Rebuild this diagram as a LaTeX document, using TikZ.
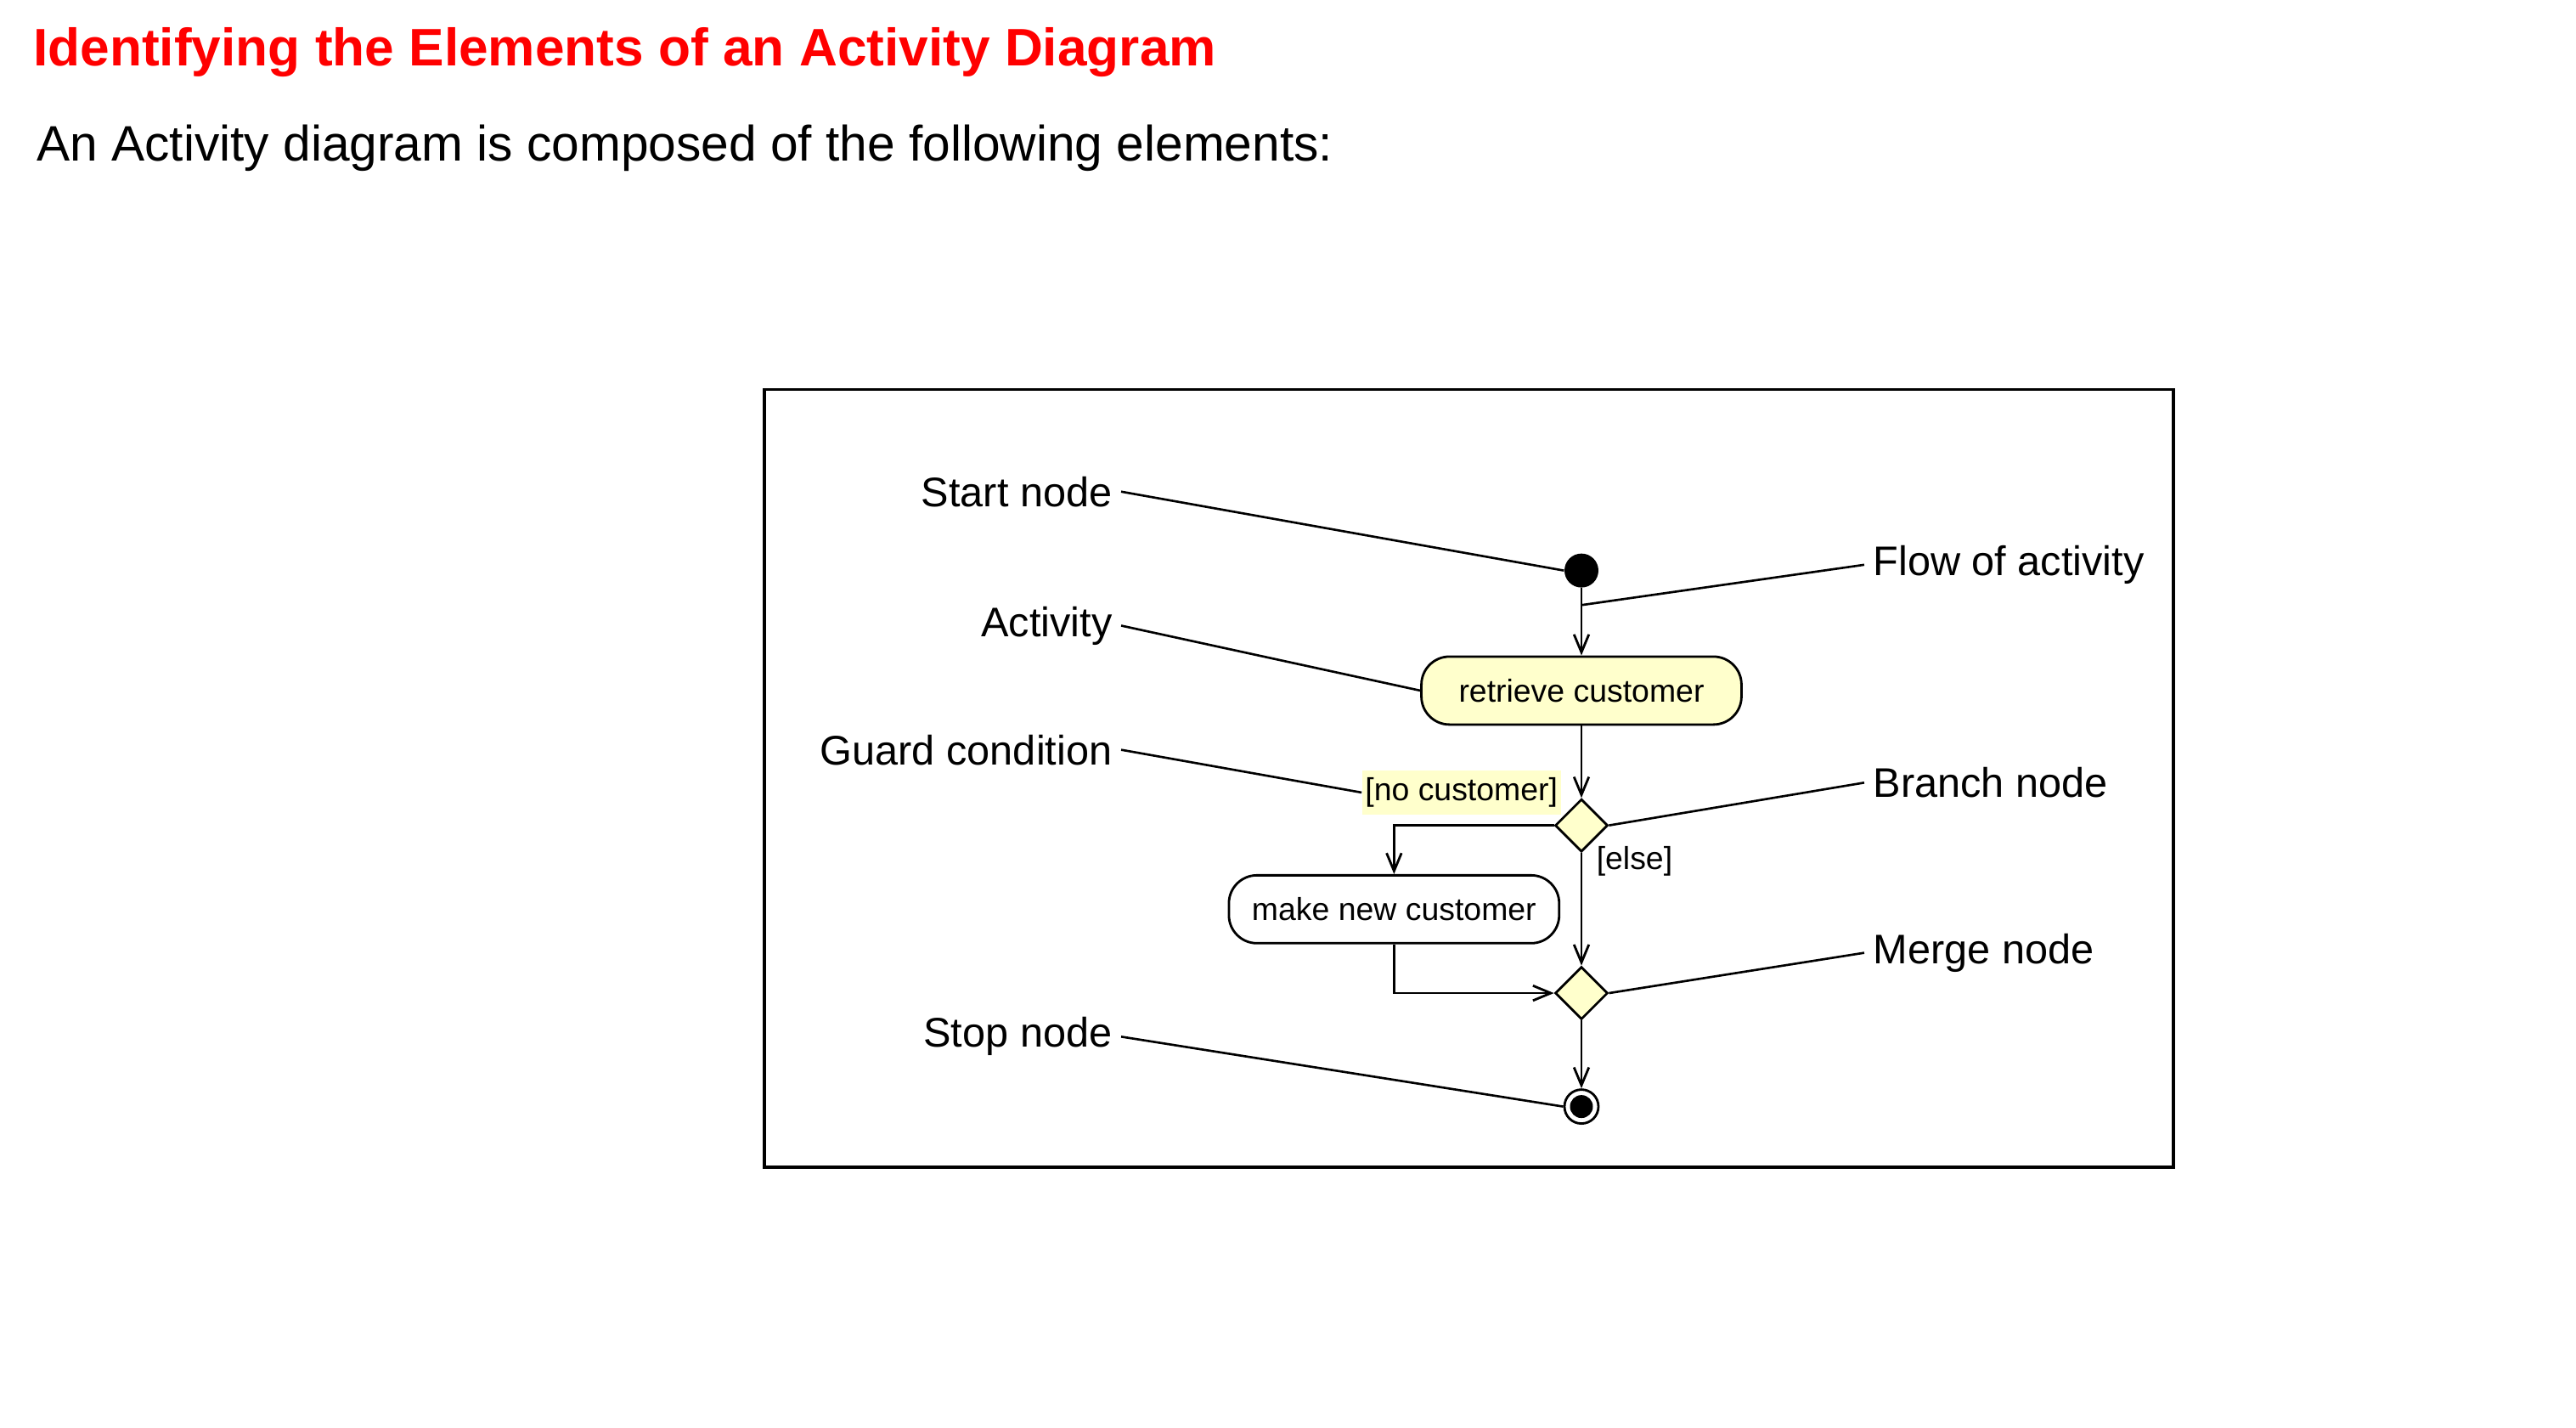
\documentclass[tikz,border=0pt]{standalone}
\usepackage{fontspec}
\setmainfont{Liberation Sans}
\usetikzlibrary{arrows.meta,shapes.geometric}
\definecolor{notepaper}{HTML}{FFFFCC}

\begin{document}
\begin{tikzpicture}[x=0.019356cm,y=-0.019356cm,
  lbl/.style={font=\fontsize{13.85}{16}\selectfont,inner sep=0.1cm},
  small/.style={font=\fontsize{10.65}{12}\selectfont},
  act/.style={draw,line width=0.8pt,rounded corners=0.33cm,minimum height=0.8cm,inner sep=0pt,small},
  dec/.style={diamond,draw,line width=0.8pt,fill=notepaper,minimum size=0.62cm,inner sep=0pt},
  flow/.style={line width=0.8pt,-{Straight Barb[length=6pt,width=5pt]}},
  lead/.style={line width=0.75pt}]
\useasboundingbox (0,0) rectangle (1567,868);
\node[anchor=base west,font=\bfseries\fontsize{17.7}{20}\selectfont,text=red,inner sep=0pt] (title) at (20,40) {Identifying the Elements of an Activity Diagram};
\node[anchor=base west,font=\fontsize{16.7}{19}\selectfont,inner sep=0pt] (intro) at (22,98) {An Activity diagram is composed of the following elements:};
\draw[line width=1pt] (465,237) rectangle (1322,710);

\node[circle,fill=black,minimum size=0.4cm,inner sep=0pt] (start) at (962,347) {};
\node[act,fill=notepaper,minimum width=3.77cm] (retrieve) at (962,420) {retrieve customer};
\node[dec] (branch) at (962,502) {};
\node[act,fill=white,minimum width=3.89cm] (makenew) at (848,553) {make new customer};
\node[dec] (merge) at (962,604) {};
\node[circle,draw,line width=0.8pt,minimum size=0.4cm,inner sep=0pt] (stop) at (962,673) {};
\node[circle,fill=black,minimum size=0.27cm,inner sep=0pt] (stopdot) at (stop) {};
\node[fill=notepaper,small,inner xsep=1pt,inner ysep=2.5pt] (nocust) at (889,482) {[no customer]};
\node[small,anchor=west,inner sep=1pt] (else) at (969,524) {[else]};
\coordinate (flowpt) at (962,368);

\node[lbl,anchor=base east] (startlbl) at (682,308) {Start node};
\node[lbl,anchor=base east] (actlbl) at (682,387) {Activity};
\node[lbl,anchor=base east] (guardlbl) at (682,465) {Guard condition};
\node[lbl,anchor=base east] (stoplbl) at (682,637) {Stop node};
\node[lbl,anchor=base west] (flowlbl) at (1134,350) {Flow of activity};
\node[lbl,anchor=base west] (branchlbl) at (1134,485) {Branch node};
\node[lbl,anchor=base west] (mergelbl) at (1134,586) {Merge node};

\draw[flow] (start) -- (retrieve);
\draw[flow] (retrieve) -- (branch);
\draw[flow] (branch.west) -| (makenew.north);
\draw[flow] (branch) -- (merge);
\draw[flow] (makenew.south) |- (merge.west);
\draw[flow] (merge) -- (stop);

\draw[lead] (startlbl.east) -- (start.west);
\draw[lead] (flowlbl.west) -- (flowpt);
\draw[lead] (actlbl.east) -- (retrieve.west);
\draw[lead] (guardlbl.east) -- (nocust.west);
\draw[lead] (branchlbl.west) -- (branch.east);
\draw[lead] (mergelbl.west) -- (merge.east);
\draw[lead] (stoplbl.east) -- (stop.west);
\end{tikzpicture}
\end{document}
